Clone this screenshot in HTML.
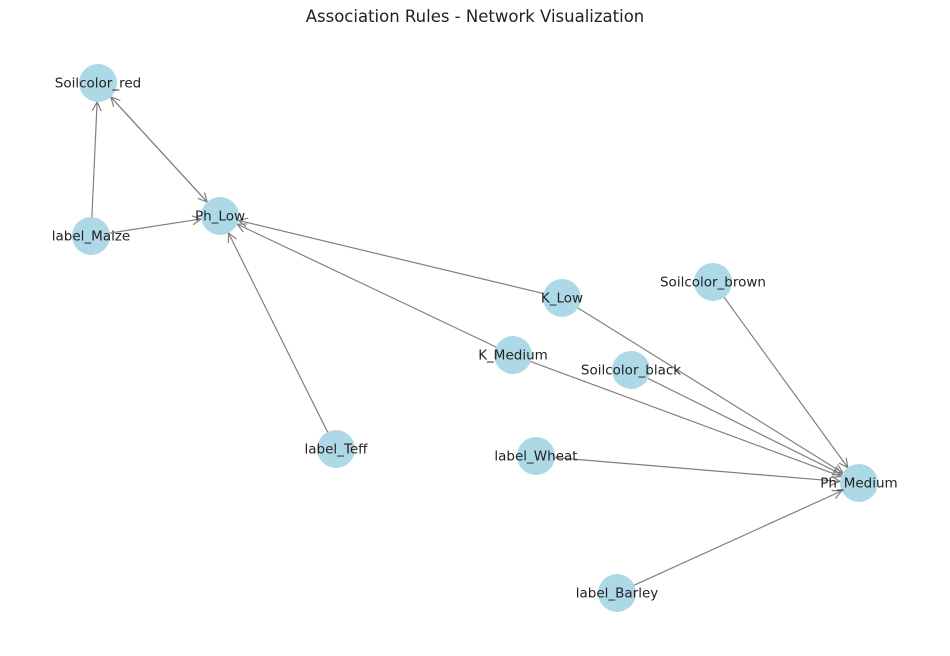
<!DOCTYPE html>
<html><head><meta charset="utf-8"><style>
body{margin:0;background:#fff}
svg{display:block;font-family:"DejaVu Sans","Liberation Sans",sans-serif}
</style></head><body>
<svg id="chart" width="950" height="656">
<text x="475" y="22" text-anchor="middle" font-size="16.5" fill="#222">Association Rules - Network Visualization</text>
<g id="edges"></g><g id="nodes"></g>
</svg>
<script>
const nodeNames = ["Soilcolor_red","Ph_Low","label_Maize","K_Low","Soilcolor_brown","K_Medium","Soilcolor_black","label_Teff","label_Wheat","Ph_Medium","label_Barley"];
const nodeX = [98,220,91,562,713,513,631,336,536,859,617];
const nodeY = [83,216,236,298,282,355,370,449,456,483,593];
const edgeFrom = ["label_Maize","label_Maize","Soilcolor_red","Ph_Low","label_Teff","K_Low","K_Medium","K_Low","Soilcolor_brown","Soilcolor_black","K_Medium","label_Wheat","label_Barley"];
const edgeTo = ["Soilcolor_red","Ph_Low","Ph_Low","Soilcolor_red","Ph_Low","Ph_Low","Ph_Low","Ph_Medium","Ph_Medium","Ph_Medium","Ph_Medium","Ph_Medium","Ph_Medium"];
const NS="http://www.w3.org/2000/svg", R=19;
const eg=document.getElementById('edges'), ng=document.getElementById('nodes');
function pos(n){const i=nodeNames.indexOf(n);return [nodeX[i],nodeY[i]];}
for(let k=0;k<edgeFrom.length;k++){
  const [x1,y1]=pos(edgeFrom[k]),[x2,y2]=pos(edgeTo[k]);
  const dx=x2-x1,dy=y2-y1,L=Math.hypot(dx,dy),ux=dx/L,uy=dy/L;
  const ex=x2-ux*R,ey=y2-uy*R;
  const p=document.createElementNS(NS,'path');
  const a=9,w=4.5;
  const bx=ex-ux*a,by=ey-uy*a;
  p.setAttribute('d',`M${x1+ux*3},${y1+uy*3}L${ex},${ey}M${bx-uy*w},${by+ux*w}L${ex},${ey}L${bx+uy*w},${by-ux*w}`);
  p.setAttribute('stroke','#808080');p.setAttribute('fill','none');p.setAttribute('stroke-width','1.2');
  
  
  eg.appendChild(p);
}
nodeNames.forEach((n,i)=>{
  const c=document.createElementNS(NS,'circle');
  c.setAttribute('cx',nodeX[i]);c.setAttribute('cy',nodeY[i]);c.setAttribute('r',R);c.setAttribute('fill','#add8e6');
  
  
  ng.appendChild(c);
  const t=document.createElementNS(NS,'text');
  t.setAttribute('x',nodeX[i]);t.setAttribute('y',nodeY[i]+4.5);t.setAttribute('text-anchor','middle');
  t.setAttribute('font-size','13.5');t.setAttribute('fill','#222');t.textContent=n;
  
  
  ng.appendChild(t);
});
</script>
</body></html>
